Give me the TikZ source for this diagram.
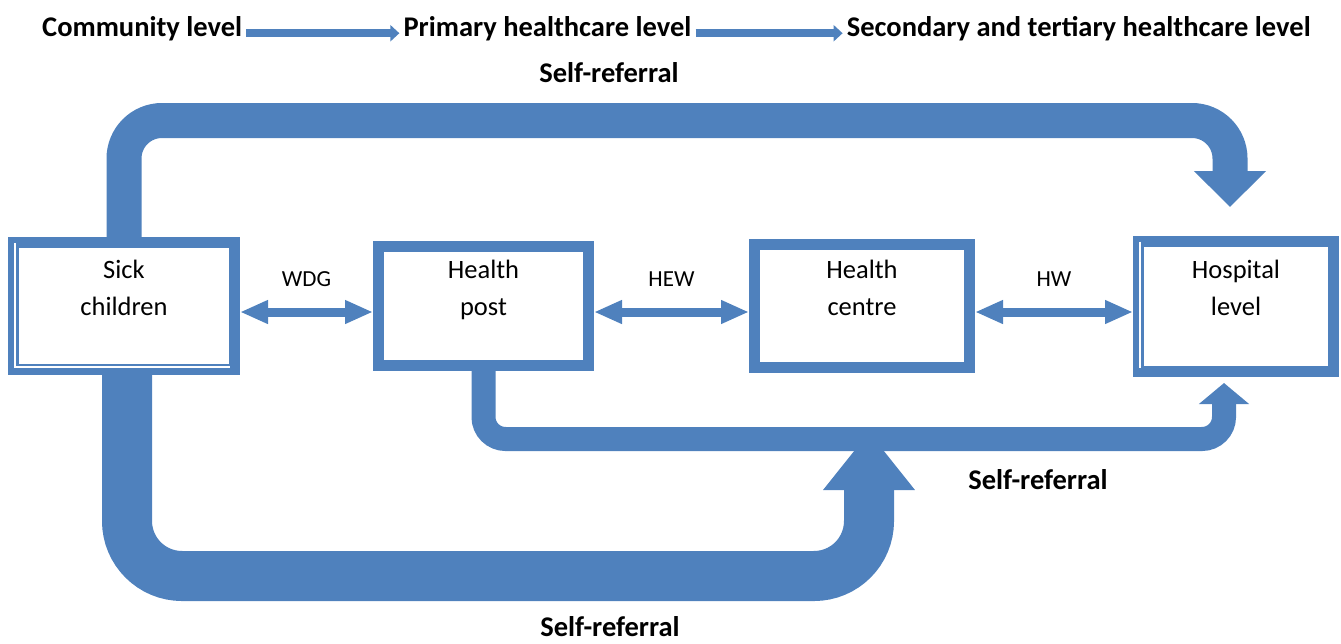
\documentclass[tikz,border=0pt]{standalone}
\usepackage{fontspec}
\setmainfont{Carlito}
\usetikzlibrary{positioning}
\usetikzlibrary{arrows.meta}

\definecolor{bandblue}{RGB}{79,129,189}

\tikzset{
	levelname/.style={font=\fontsize{28.5}{34}\selectfont\bfseries, inner sep=4pt},
	levelarrow/.style={draw=bandblue, line width=8pt, arrows={-Triangle[width=16pt,length=9pt]}},
	box/.style={draw=bandblue, line width=11pt, fill=white, align=center, font=\fontsize{26.5}{37}\selectfont},
	glint/.style={draw=white, line width=1.2pt},
	dblarrow/.style={draw=bandblue, line width=9pt, arrows={Triangle[width=22pt,length=28pt]-Triangle[width=22pt,length=28pt]}},
	lbl/.style={font=\fontsize{23}{28}\selectfont, inner sep=0pt},
	band/.style={draw=bandblue, line cap=butt}
}

\begin{document}
\begin{tikzpicture}[x=1pt,y=-1pt]
	\useasboundingbox (0,0) rectangle (1341,643);

	% levels
	\node[levelname,anchor=base west] (comm) at (38,36) {Community level};
	\node[levelname,right=153pt of comm] (prim) {Primary healthcare level};
	\node[levelname,right=147pt of prim] (sec) {Secondary and tertiary healthcare level};
	\draw[levelarrow] ([yshift=-5pt]comm.east) -- ([yshift=-5pt]prim.west);
	\draw[levelarrow] ([yshift=-5pt]prim.east) -- ([yshift=-5pt]sec.west);

	% nodes
	\node[box,minimum width=221pt,minimum height=127pt] (sick) at (124,306) {Sick\\children\\\mbox{}};
	\node[box,minimum width=210pt,minimum height=119pt,right=133pt of sick] (post) {Health\\post\\\mbox{}};
	\node[box,minimum width=215pt,minimum height=123pt,right=155pt of post] (centre) {Health\\centre\\\mbox{}};
	\node[box,minimum width=195pt,minimum height=130pt,right=158pt of centre] (hosp) {Hospital\\level\\\mbox{}};
	\draw[glint] ([shift={(7pt,-6pt)}]sick.north west) |- ([shift={(-10pt,8pt)}]sick.south east);
	\draw[glint] ([shift={(7pt,-6pt)}]hosp.north west) -- ([shift={(7pt,9pt)}]hosp.south west);

	% edges
	\draw[dblarrow] ([yshift=-6pt]sick.east) -- node[lbl,above=21pt] (wdg) {WDG} ([yshift=-6pt]post.west);
	\draw[dblarrow] ([yshift=-6pt]post.east) -- node[lbl,above=21pt] (hew) {HEW} ([yshift=-6pt]centre.west);
	\draw[dblarrow] ([yshift=-6pt]centre.east) -- node[lbl,above=21pt] (hw) {HW} ([yshift=-6pt]hosp.west);

	% self-referral
	\coordinate (topend) at (1230,207);
	\coordinate (midend) at (1224,383);
	\coordinate (botend) at (869,432);
	\draw[band,line width=35pt,rounded corners=38pt,-{Triangle[width=70pt,length=36pt]}] (sick.north) -- ++(0,-116.5) -| (topend);
	\draw[band,line width=24pt,rounded corners=22pt,-{Triangle[width=49pt,length=21pt]}] (post.south) -- ++(0,68) -| (midend);
	\draw[band,line width=50pt,rounded corners=55pt,-{Triangle[width=88pt,length=58pt]}] ([xshift=3pt]sick.south) -- ++(0,201) -| (botend);
	\node[levelname,anchor=base] (selftop) at (609,82) {Self-referral};
	\node[levelname,anchor=base] (selfmid) at (1038,489) {Self-referral};
	\node[levelname,anchor=base] (selfbot) at (610,636) {Self-referral};
\end{tikzpicture}
\end{document}
